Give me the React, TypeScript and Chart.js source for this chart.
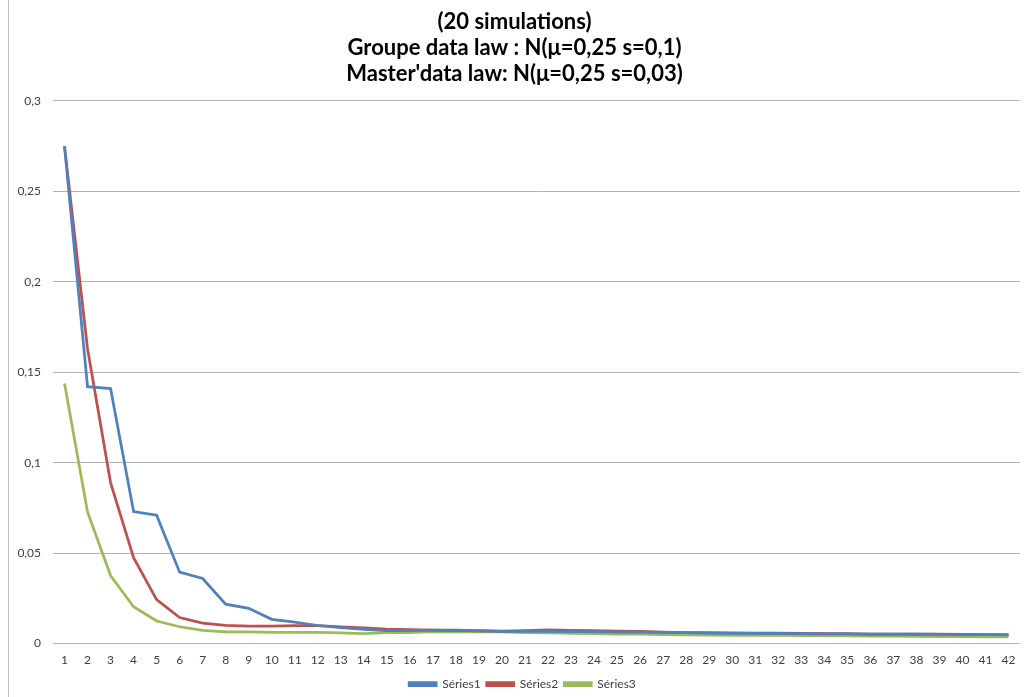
import React, { useEffect, useRef } from "react";
import { Chart, registerables } from "chart.js";

Chart.register(...registerables);

const categories: string[] = Array.from({ length: 42 }, (_, i) => String(i + 1));

const titleLines: string[] = [
  "(20 simulations)",
  "Groupe data law : N(μ=0,25 s=0,1)",
  "Master'data law: N(μ=0,25 s=0,03)",
];

const series1: number[] = [
  0.275, 0.142, 0.141, 0.073, 0.071, 0.0395, 0.036, 0.0218, 0.0195, 0.0134,
  0.0119, 0.01, 0.0088, 0.0078, 0.0072, 0.0072, 0.0075, 0.0074, 0.0072, 0.0068,
  0.0067, 0.0068, 0.0066, 0.0066, 0.0064, 0.0063, 0.0062, 0.006, 0.0058, 0.0057,
  0.0056, 0.0056, 0.0055, 0.0054, 0.0054, 0.0053, 0.0052, 0.0052, 0.0051, 0.005,
  0.0049, 0.0048,
];

const series2: number[] = [
  0.275, 0.163, 0.089, 0.0475, 0.0243, 0.0144, 0.0113, 0.0101, 0.0097, 0.0097,
  0.01, 0.01, 0.0093, 0.0087, 0.008, 0.0077, 0.0075, 0.0072, 0.0071, 0.0069,
  0.0072, 0.0076, 0.0073, 0.0072, 0.0069, 0.0068, 0.0064, 0.0061, 0.006, 0.0059,
  0.0058, 0.0058, 0.0056, 0.0055, 0.0055, 0.0053, 0.0053, 0.0053, 0.0052, 0.0051,
  0.005, 0.005,
];

const series3: number[] = [
  0.1438, 0.0728, 0.0376, 0.0204, 0.0125, 0.0093, 0.0073, 0.0065, 0.0065, 0.0062,
  0.0062, 0.0062, 0.0059, 0.0055, 0.0061, 0.0061, 0.0066, 0.0065, 0.0065, 0.0065,
  0.0061, 0.0059, 0.0057, 0.0055, 0.0053, 0.0052, 0.005, 0.0048, 0.0047, 0.0046,
  0.0045, 0.0045, 0.0044, 0.0044, 0.0043, 0.0042, 0.0041, 0.004, 0.0039, 0.0038,
  0.0037, 0.0037,
];

const seriesNames: string[] = ["Séries1", "Séries2", "Séries3"];
const seriesColors: string[] = ["#4F81BD", "#C0504D", "#9BBB59"];

const yTickValues: number[] = [0, 0.05, 0.1, 0.15, 0.2, 0.25, 0.3];

const FONT = "Lato, 'Open Sans', sans-serif";

// Moves the bottom legend slightly right and down within its box.
const legendShift = {
  id: "legendShift",
  afterLayout(chart: any) {
    const lg = chart.legend;
    if (lg) {
      lg.left += 8;
      lg.right += 8;
      lg.top += 3;
      lg.bottom += 3;
    }
  },
};

export default function App() {
  const canvasRef = useRef<HTMLCanvasElement | null>(null);

  useEffect(() => {
    if (!canvasRef.current) return;
    const values = [series1, series2, series3];
    const chart = new Chart(canvasRef.current, {
      type: "line",
      data: {
        labels: categories,
        datasets: values.map((data, i) => ({
          label: seriesNames[i],
          data,
          borderColor: seriesColors[i],
          backgroundColor: seriesColors[i],
          borderWidth: 2.75,
          pointRadius: 0,
          tension: 0,
          fill: false,
        })),
      },
      plugins: [legendShift],
      options: {
        animation: false,
        responsive: false,
        maintainAspectRatio: false,
        layout: { padding: { left: 0, right: 5, top: 0, bottom: 0 } },
        plugins: {
          title: {
            display: true,
            text: titleLines,
            color: "#000",
            font: { family: FONT, size: 22, weight: "bold", lineHeight: 1.18 },
            padding: { top: 9, bottom: 14 },
          },
          legend: {
            position: "bottom",
            labels: {
              boxWidth: 27,
              boxHeight: 3,
              padding: 6,
              color: "#404040",
              font: { family: FONT, size: 12 },
            },
          },
          tooltip: { enabled: false },
        },
        scales: {
          x: {
            offset: true,
            afterFit: (scale: any) => {
              scale.height += 1;
            },
            grid: { display: false },
            border: { display: false },
            ticks: {
              autoSkip: false,
              maxRotation: 0,
              padding: 1,
              color: "#404040",
              font: { family: FONT, size: 12 },
            },
          },
          y: {
            min: 0,
            max: 0.3,
            afterFit: (scale: any) => {
              scale.width = 44;
            },
            afterBuildTicks: (scale: any) => {
              scale.ticks = yTickValues.map((v) => ({ value: v }));
            },
            grid: { color: "#b3b3b3", drawTicks: false, lineWidth: 1 },
            border: { display: false },
            ticks: {
              padding: 12,
              color: "#404040",
              font: { family: FONT, size: 12 },
              callback: (v: any) => String(Number(v)).replace(".", ","),
            },
          },
        },
      },
    });
    return () => chart.destroy();
  }, []);

  return (
    <div
      style={{
        position: "fixed",
        left: 0,
        top: 0,
        width: 1025,
        height: 697,
        background: "#fff",
      }}
    >
      <div
        style={{
          position: "absolute",
          left: 8,
          top: 0,
          width: 1,
          height: 697,
          background: "#c4c4c4",
        }}
      />
      <canvas
        ref={canvasRef}
        width={1016}
        height={697}
        style={{ position: "absolute", left: 9, top: 0 }}
      />
    </div>
  );
}
